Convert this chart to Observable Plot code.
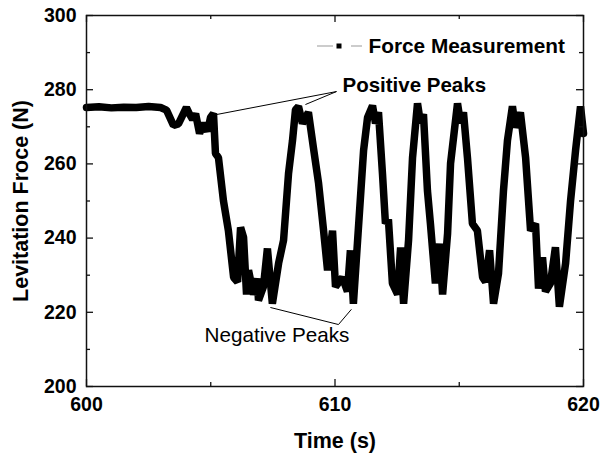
<!DOCTYPE html>
<html><head><meta charset="utf-8">
<script src="https://cdn.jsdelivr.net/npm/d3@7"></script>
<script src="https://cdn.jsdelivr.net/npm/@observablehq/plot@0.6"></script>
<style>body{margin:0;background:#fff;}</style>
</head><body><div id="chart"></div>
<script>
const time = [600.0, 600.5, 601.0, 601.5, 602.0, 602.5, 602.98, 603.22, 603.50, 603.70, 604.02, 604.14, 604.27, 604.39, 604.55, 604.71, 604.87, 604.99, 605.11, 605.19, 605.31, 605.51, 605.71, 605.92, 606.08, 606.20, 606.32, 606.44, 606.52, 606.72, 606.88, 606.92, 607.12, 607.28, 607.48, 607.73, 607.93, 608.13, 608.29, 608.41, 608.53, 608.69, 608.81, 608.93, 609.13, 609.34, 609.54, 609.70, 609.90, 610.02, 610.30, 610.50, 610.62, 610.74, 610.91, 611.15, 611.31, 611.51, 611.63, 611.75, 611.91, 612.03, 612.15, 612.31, 612.52, 612.64, 612.76, 612.96, 613.12, 613.32, 613.44, 613.56, 613.72, 613.84, 614.04, 614.21, 614.33, 614.53, 614.65, 614.93, 615.05, 615.17, 615.33, 615.53, 615.73, 615.94, 616.06, 616.22, 616.38, 616.58, 616.78, 616.94, 617.14, 617.26, 617.46, 617.67, 617.87, 618.07, 618.19, 618.35, 618.47, 618.67, 618.87, 619.03, 619.28, 619.48, 619.68, 619.88, 620.0];
const force = [275.2, 275.4, 275.1, 275.3, 275.2, 275.5, 275.2, 274.5, 270.4, 270.8, 275.2, 273.5, 272.0, 273.5, 268.2, 271.0, 268.8, 272.5, 273.6, 262.8, 261.7, 250.1, 242.0, 229.4, 228.2, 242.9, 240.2, 224.8, 231.3, 224.8, 229.1, 223.2, 226.9, 237.2, 222.3, 233.2, 239.4, 257.4, 266.3, 274.6, 275.5, 270.9, 272.5, 273.9, 264.4, 254.7, 242.0, 231.3, 242.0, 226.9, 229.4, 225.6, 236.7, 222.3, 239.4, 263.6, 272.5, 275.7, 270.9, 273.9, 257.4, 243.9, 245.0, 227.8, 224.8, 237.5, 222.3, 239.4, 261.7, 276.3, 271.0, 273.4, 252.8, 243.9, 227.8, 238.5, 224.8, 241.2, 260.1, 276.3, 271.0, 273.9, 261.7, 243.9, 242.0, 229.4, 228.2, 236.7, 222.3, 230.5, 252.8, 266.3, 275.5, 269.8, 273.9, 261.7, 242.0, 243.9, 226.4, 234.8, 225.6, 227.8, 237.5, 221.5, 233.2, 250.1, 263.6, 275.5, 268.2];

const xMajor = [600, 610, 620];
const xMinor = [605, 615];
const yMajor = [200, 220, 240, 260, 280, 300];
const yMinor = [210, 230, 250, 270, 290];

const seriesName = "Force Measurement";
const xTitle = "Time (s)";
const yTitle = "Levitation Froce (N)";

// annotations: label text, label anchor (t, F), leader line endpoints
const posLabel = "Positive Peaks";
const posLabelAt = [610.30, 281.1];
const posJoin = [610.06, 279.5];
const posTargets = [[605.23, 273.3], [608.81, 276.0]];
const negLabel = "Negative Peaks";
const negLabelAt = [604.75, 213.7];
const negJoin = [610.14, 216.7];
const negTargets = [[607.40, 221.3], [610.66, 220.8]];

const data = time.map((t, i) => ({t, f: force[i]}));
const links = [
  ...posTargets.map(p => ({x1: posJoin[0], y1: posJoin[1], x2: p[0], y2: p[1]})),
  ...negTargets.map(p => ({x1: negJoin[0], y1: negJoin[1], x2: p[0], y2: p[1]}))
];

const W = 607, H = 454, ML = 86, MR = 24, MT = 15, MB = 68;
const innerW = W - ML - MR, innerH = H - MT - MB;
const majorLen = 7, minorLen = 4;
const font = "Liberation Sans, Arial, Helvetica, sans-serif";

const tickStyle = {stroke: "#111", strokeWidth: 1.3};

function legendMark(index, scales, values, dims) {
  const g = d3.create("svg:g");
  const right = dims.width - dims.marginRight;
  const cy = dims.marginTop + 31;
  const cx = right - 244;
  g.append("line").attr("x1", cx - 22).attr("x2", cx - 6).attr("y1", cy).attr("y2", cy)
    .attr("stroke", "#aaa").attr("stroke-width", 1.2);
  g.append("line").attr("x1", cx + 12).attr("x2", cx + 23).attr("y1", cy).attr("y2", cy)
    .attr("stroke", "#aaa").attr("stroke-width", 1.2);
  g.append("rect").attr("x", cx - 2.5).attr("y", cy - 2.5).attr("width", 5).attr("height", 5).attr("fill", "#000");
  g.append("text").attr("x", right - 18).attr("y", cy).attr("dy", "0.35em")
    .attr("text-anchor", "end").attr("font-size", 20.8).attr("font-weight", "bold")
    .attr("font-family", font).attr("fill", "#000").text(seriesName);
  return g.node();
}

const chart = Plot.plot({
  width: W, height: H,
  marginLeft: ML, marginRight: MR, marginTop: MT, marginBottom: MB,
  style: {fontFamily: font, background: "#fff", color: "#000"},
  x: {domain: [600, 620]},
  y: {domain: [200, 300]},
  marks: [
    Plot.line(data, {x: "t", y: "f", stroke: "#000", strokeWidth: 7.5, strokeLinejoin: "miter"}),
    Plot.link(links, {x1: "x1", y1: "y1", x2: "x2", y2: "y2", stroke: "#000", strokeWidth: 1}),
    Plot.text([posLabel], {x: () => posLabelAt[0], y: () => posLabelAt[1], text: d => d, textAnchor: "start", fontSize: 20.5, fontWeight: "bold", fill: "#000"}),
    Plot.text([negLabel], {x: () => negLabelAt[0], y: () => negLabelAt[1], text: d => d, textAnchor: "start", fontSize: 20.7, fill: "#000"}),
    // inward ticks on all four sides
    Plot.tickX(xMajor, {x: d => d, insetTop: innerH - majorLen, ...tickStyle}),
    Plot.tickX(xMajor, {x: d => d, insetBottom: innerH - majorLen, ...tickStyle}),
    Plot.tickX(xMinor, {x: d => d, insetTop: innerH - minorLen, ...tickStyle}),
    Plot.tickX(xMinor, {x: d => d, insetBottom: innerH - minorLen, ...tickStyle}),
    Plot.tickY(yMajor, {y: d => d, insetRight: innerW - majorLen, ...tickStyle}),
    Plot.tickY(yMajor, {y: d => d, insetLeft: innerW - majorLen, ...tickStyle}),
    Plot.tickY(yMinor, {y: d => d, insetRight: innerW - minorLen, ...tickStyle}),
    Plot.tickY(yMinor, {y: d => d, insetLeft: innerW - minorLen, ...tickStyle}),
    Plot.axisX(xMajor, {tickSize: 0, tickPadding: 11, fontSize: 19.5, fontWeight: "bold", label: null, tickFormat: d => String(d)}),
    Plot.axisY(yMajor, {tickSize: 0, tickPadding: 10, fontSize: 19.5, fontWeight: "bold", label: null, tickFormat: d => String(d)}),
    Plot.text([xTitle], {frameAnchor: "bottom", dy: 55, lineAnchor: "middle", textAnchor: "middle", text: d => d, fontSize: 21.5, fontWeight: "bold", fill: "#000"}),
    Plot.text([yTitle], {frameAnchor: "left", dx: -65, rotate: -90, lineAnchor: "middle", textAnchor: "middle", text: d => d, fontSize: 21.5, fontWeight: "bold", fill: "#000"}),
    Plot.frame({stroke: "#111", strokeWidth: 1.5}),
    legendMark
  ]
});
document.getElementById("chart").appendChild(chart);
</script>
</body></html>
